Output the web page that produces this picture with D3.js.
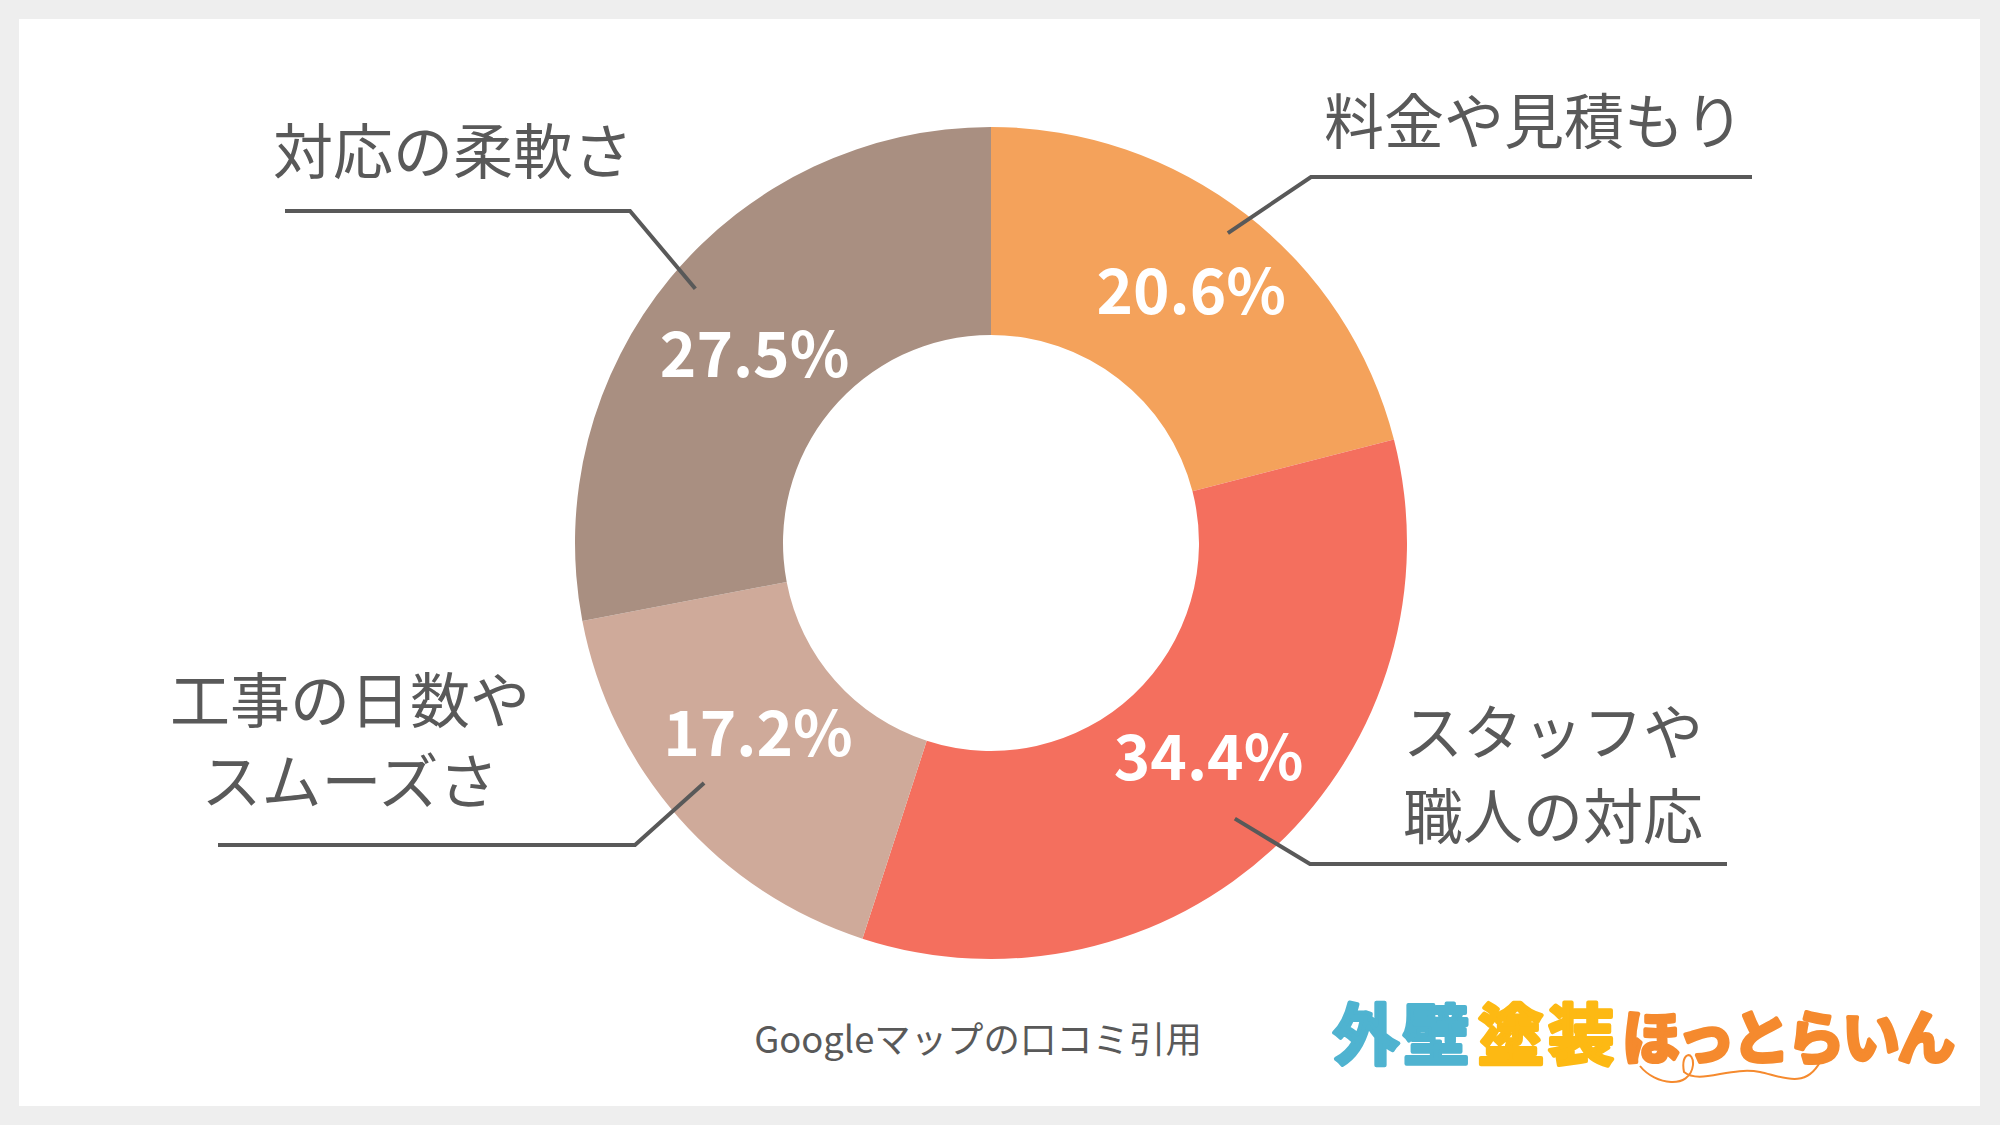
<!DOCTYPE html>
<html>

<head>
  <meta charset="utf-8">
  <title>donut</title>
  <style>
    * {
      padding: 0;
      margin: 0;
    }

    body {
      background: #eeeeee;
      overflow: hidden;
    }

    svg {
      display: block;
    }

    text {
      font-family: "Noto Sans CJK JP", "Noto Sans", sans-serif;
    }

    .label {
      fill: #595959;
      font-size: 60px;
    }

    .value {
      fill: #fff;
      font-size: 62px;
      font-weight: 700;
      text-anchor: middle;
    }

    .leader {
      fill: none;
      stroke: #595959;
      stroke-width: 4;
    }

    .note {
      fill: #595959;
      font-size: 36.4px;
      text-anchor: middle;
    }

    .logo {
      font-weight: 700;
      stroke-linejoin: round;
      stroke-linecap: round;
    }
  </style>
</head>

<body>
  <svg id="svg"></svg>
  <script src="https://cdnjs.cloudflare.com/ajax/libs/d3/7.8.5/d3.min.js"></script>
  <script>
    const categories = ['料金や見積もり', 'スタッフや\n職人の対応', '工事の日数や\nスムーズさ', '対応の柔軟さ'];
    // slice sizes as drawn in the picture (they differ slightly from the printed percentages)
    const sliceShares = [21.0, 34.0, 17.0, 28.0];
    const valueLabels = ['20.6%', '34.4%', '17.2%', '27.5%'];
    const colors = ['#f4a25b', '#f46f5e', '#cfaa9a', '#a98f81'];
    const logoParts = ['外壁', '塗装', 'ほっとらいん'];
    const logoColors = ['#4fb3d0', '#fdb913', '#f58a2e'];
    const note = 'Googleマップの口コミ引用';

    const dimension = { width: 2000, height: 1125, cx: 991, cy: 543, outer: 416, inner: 208 };

    const svg = d3.select('#svg').attr('width', dimension.width).attr('height', dimension.height);

    svg.append('rect')
      .attr('x', 19).attr('y', 19)
      .attr('width', 1961).attr('height', 1087)
      .attr('fill', '#fff');

    const pie = d3.pie().sort(null)(sliceShares);
    const arc = d3.arc().innerRadius(dimension.inner).outerRadius(dimension.outer);

    const chart = svg.append('g').attr('transform', `translate(${dimension.cx},${dimension.cy})`);

    chart.selectAll('path.slice')
      .data(pie)
      .enter()
      .append('path')
      .attr('class', 'slice')
      .attr('d', arc)
      .attr('fill', (d, i) => colors[i]);

    // 引き出し線: elbow and end x are relative to the centre, da in degrees
    const leaders = [
      { r: 390, da: -0.4, elbow: [320, -366], endX: 761, labelX: 543, labelY: [-399], anchor: 'middle' },
      { r: 368, da: 1.7, elbow: [319, 321], endX: 736, labelX: 562, labelY: [212, 296], anchor: 'middle' },
      { r: 374, da: 1.5, elbow: [-356, 302], endX: -773, labelX: -641, labelY: [180, 261], anchor: 'middle' },
      { r: 390, da: 1.1, elbow: [-361, -332], endX: -706, labelX: -538, labelY: [-369], anchor: 'middle' }
    ];

    // tweak of the percentage labels away from the slice centroid
    const valueOffsets = [[9, -4.5], [4, -12], [1, -15], [4, 11]];

    const mid = d => (d.startAngle + d.endAngle) / 2;

    chart.selectAll('path.leader')
      .data(pie)
      .enter()
      .append('path')
      .attr('class', 'leader')
      .attr('d', (d, i) => {
        const l = leaders[i];
        return d3.line()([d3.pointRadial(mid(d) + l.da * Math.PI / 180, l.r), l.elbow, [l.endX, l.elbow[1]]]);
      });

    chart.selectAll('text.value')
      .data(pie)
      .enter()
      .append('text')
      .attr('class', 'value')
      .attr('x', (d, i) => arc.centroid(d)[0] + valueOffsets[i][0])
      .attr('y', (d, i) => arc.centroid(d)[1] + 22 + valueOffsets[i][1])
      .text((d, i) => valueLabels[i]);

    categories.forEach((c, i) => {
      const l = leaders[i];
      c.split('\n').forEach((line, j) => {
        chart.append('text')
          .attr('class', 'label')
          .attr('text-anchor', l.anchor)
          .attr('x', l.labelX)
          .attr('y', l.labelY[j])
          .text(line);
      });
    });

    svg.append('text')
      .attr('class', 'note')
      .attr('x', 978)
      .attr('y', 1053)
      .text(note);

    // ロゴ
    const logoSizes = [66, 66, 58];
    const logoX = [1333, 1478, 1622];
    const logoSpacing = [4, 4, -3];
    logoParts.forEach((p, i) => {
      svg.append('text')
        .attr('class', 'logo')
        .attr('x', logoX[i])
        .attr('y', 1059)
        .attr('font-size', logoSizes[i])
        .attr('letter-spacing', logoSpacing[i])
        .attr('fill', logoColors[i])
        .attr('stroke', logoColors[i])
        .attr('stroke-width', 4)
        .text(p);
    });

    // 電話コード
    svg.append('path')
      .attr('d', 'M1640 1066 C1655 1085 1690 1090 1693 1065 C1694 1050 1680 1052 1684 1072 C1700 1085 1730 1066 1760 1072 C1780 1076 1805 1090 1820 1062')
      .attr('fill', 'none')
      .attr('stroke', '#f58a2e')
      .attr('stroke-width', 2);
  </script>

</body>

</html>
